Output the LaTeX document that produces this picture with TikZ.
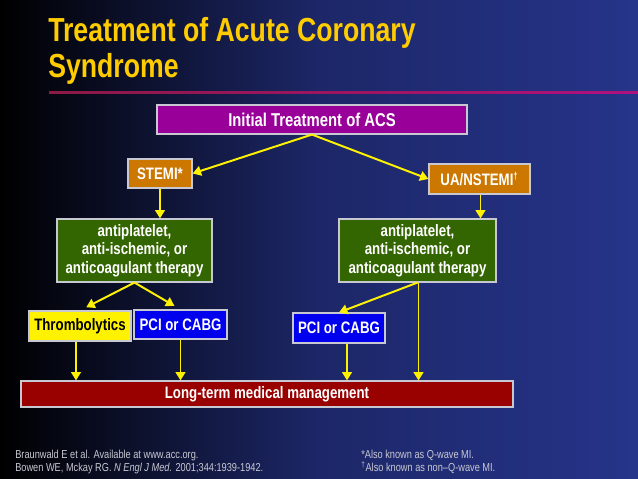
\documentclass[tikz,border=0pt]{standalone}
\usepackage{fontspec}
\setmainfont{Liberation Sans}
\newfontfamily\narrowfont[FakeStretch=0.8]{Liberation Sans}
\usetikzlibrary{arrows.meta, positioning, calc}
\definecolor{bgblue}{RGB}{38, 52, 138}
\definecolor{titleyellow}{RGB}{255, 204, 0}
\definecolor{acspurple}{RGB}{153, 0, 153}
\definecolor{acsorange}{RGB}{204, 119, 0}
\definecolor{acsgreen}{RGB}{51, 102, 0}
\definecolor{acsblue}{RGB}{0, 0, 238}
\definecolor{acsred}{RGB}{153, 0, 0}
\definecolor{rulered}{RGB}{140, 25, 70}
\definecolor{framegray}{RGB}{200, 200, 210}
\newlength\px
\setlength\px{0.025cm}

\begin{document}
\begin{tikzpicture}[
    x=\px, y=-\px,
    box/.style={draw=framegray, line width=0.8pt, text=white, align=center, inner sep=0pt,
                font=\narrowfont\bfseries\fontsize{11.8}{13.3}\selectfont},
    arrow/.style={-{Triangle[length=6pt, width=7pt]}, line width=1.4pt, yellow},
    note/.style={anchor=base west, inner sep=0pt, text=framegray, font=\narrowfont\fontsize{8.2}{9}\selectfont}
]
\useasboundingbox (0,0) rectangle (638,479);
\shade[left color=black, right color=bgblue, middle color=bgblue!75!black] (0,0) rectangle (638,479);

% Title
\node (t1) [anchor=base west, inner sep=0pt, text=titleyellow, font=\narrowfont\bfseries\fontsize{23.7}{25}\selectfont] at (48,42) {Treatment of Acute Coronary};
\node (t2) [anchor=base west, inner sep=0pt, text=titleyellow, font=\narrowfont\bfseries\fontsize{23.7}{25}\selectfont] at (48,77) {Syndrome};
\shade[left color=rulered, right color=rulered!70!magenta] (49,92) rectangle (638,94);

% 1. Initial treatment
\node (init) [box, fill=acspurple, minimum width=310\px, minimum height=29\px, font=\narrowfont\bfseries\fontsize{13.2}{14}\selectfont] at (312,119.5) {Initial Treatment of ACS};

% 2. Diagnosis
\node (stemi) [box, fill=acsorange, minimum width=64\px, minimum height=29\px] at (160,173.5) {STEMI*};
\node (ua) [box, fill=acsorange, minimum width=101\px, minimum height=30\px] at (479.5,179) {UA/NSTEMI\textsuperscript{\fontsize{7}{7}\selectfont †}};

% 3. Drug therapy
\node (drugl) [box, fill=acsgreen, minimum width=155\px, minimum height=63\px] at (134.5,250.5) {antiplatelet,\\anti-ischemic, or\\anticoagulant therapy};
\node (drugr) [box, fill=acsgreen, minimum width=157\px, minimum height=63\px] at (417.5,250.5) {antiplatelet,\\anti-ischemic, or\\anticoagulant therapy};

% 4. Reperfusion
\node (thromb) [box, fill=yellow, text=black, minimum width=102\px, minimum height=30\px] at (80,326) {Thrombolytics};
\node (pcil) [box, fill=acsblue, minimum width=93\px, minimum height=29\px] at (180.5,324.5) {PCI or CABG};
\node (pcir) [box, fill=acsblue, minimum width=92\px, minimum height=30\px] at (339,328) {PCI or CABG};

% 5. Long-term
\node (ltm) [box, fill=acsred, minimum width=492\px, minimum height=26\px] at (267,394) {Long-term medical management};

% Connectors
\draw [arrow] (init.south) -- (stemi.east);
\draw [arrow] (init.south) -- (ua.west);
\draw [arrow] (stemi.south) -- (stemi.south |- drugl.north);
\draw [arrow] ([xshift=1\px]ua.south) -- ([xshift=1\px]ua.south |- drugr.north);
\draw [arrow, shorten >=5pt] (drugl.south) -- (thromb.north);
\draw [arrow, shorten >=5pt] (drugl.south) -- (pcil.north);
\draw [arrow] (drugr.south) -- (pcir.north);
\draw [arrow] ([xshift=-4\px]thromb.south) -- ([xshift=-4\px]thromb.south |- ltm.north);
\draw [arrow] (pcil.south) -- (pcil.south |- ltm.north);
\draw [arrow] ([xshift=8\px]pcir.south) -- ([xshift=8\px]pcir.south |- ltm.north);
\draw [arrow] ([xshift=1\px]drugr.south) -- ([xshift=1\px]drugr.south |- ltm.north);

% Footnotes
\node (ref1) [note] at (15,458) {Braunwald E et al. Available at www.acc.org.};
\node (ref2) [note] at (15,471) {Bowen WE, Mckay RG. \textit{N Engl J Med.} 2001;344:1939-1942.};
\node (fn1) [note] at (361,458) {*Also known as Q-wave MI.};
\node (fn2) [note] at (361,471) {\textsuperscript{†}Also known as non–Q-wave MI.};

\end{tikzpicture}
\end{document}
